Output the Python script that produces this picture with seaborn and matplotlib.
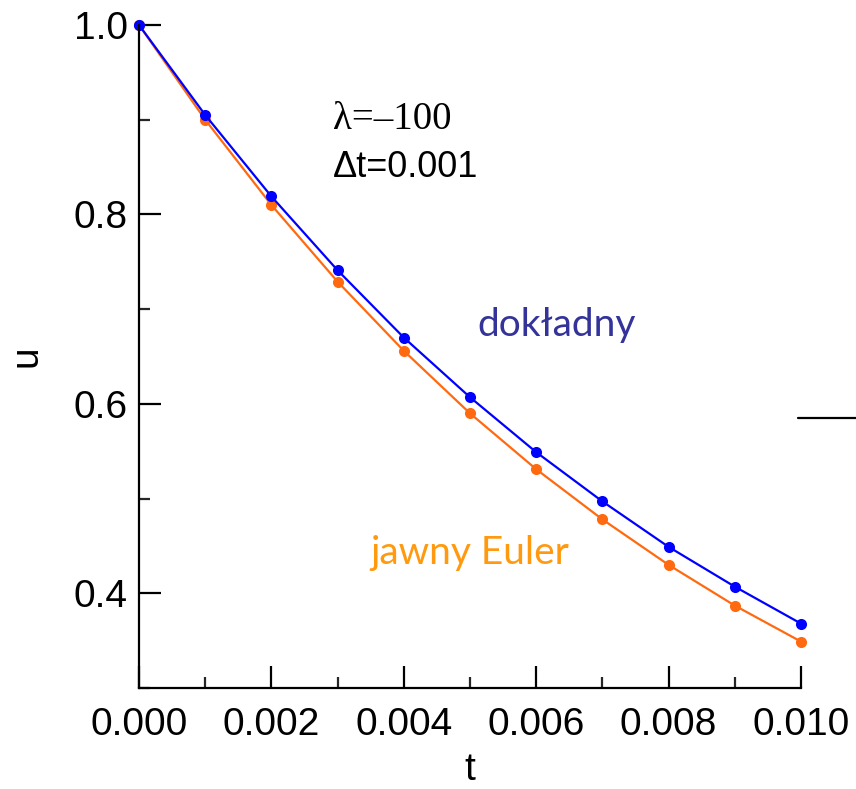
import numpy as np
import pandas as pd
import matplotlib
matplotlib.use("Agg")
import matplotlib.pyplot as plt
from matplotlib.lines import Line2D
from matplotlib.ticker import MultipleLocator
import seaborn as sns

# ==============================
# Data
# ==============================
t = [0.000, 0.001, 0.002, 0.003, 0.004, 0.005, 0.006, 0.007, 0.008, 0.009, 0.010]
u_exact = [1.000, 0.905, 0.819, 0.741, 0.670, 0.607, 0.549, 0.497, 0.449, 0.407, 0.368]
u_euler = [1.000, 0.900, 0.810, 0.729, 0.656, 0.590, 0.531, 0.478, 0.430, 0.387, 0.349]

x_ticks = [0.000, 0.002, 0.004, 0.006, 0.008, 0.010]
y_ticks = [0.4, 0.6, 0.8, 1.0]

df = pd.DataFrame({"t": t, "exact": u_exact, "euler": u_euler})

# ==============================
# Style
# ==============================
sns.set_style("ticks")
plt.rcParams['font.family'] = ['Liberation Sans', 'DejaVu Sans']
plt.rcParams['text.color'] = 'black'
plt.rcParams['axes.labelcolor'] = 'black'

fig = plt.figure(figsize=(8.56, 7.89), dpi=100)
ax = fig.add_axes([139 / 856, 1 - 688 / 789, 662 / 856, 663 / 789])

# orange first, blue on top
sns.lineplot(data=df, x="t", y="euler", ax=ax, color="#ff6a10", linewidth=1.6,
             marker="o", markersize=8, markeredgewidth=0, clip_on=False)
sns.lineplot(data=df, x="t", y="exact", ax=ax, color="#0000ff", linewidth=1.6,
             marker="o", markersize=8, markeredgewidth=0, clip_on=False)

ax.set_xlim(0, 0.010)
ax.set_ylim(0.3, 1.0)
ax.set_xticks(x_ticks)
ax.set_xticklabels([f"{v:.3f}" for v in x_ticks])
ax.set_yticks(y_ticks)
ax.set_yticklabels([f"{v:.1f}" for v in y_ticks])
ax.xaxis.set_minor_locator(MultipleLocator(0.001))
ax.yaxis.set_minor_locator(MultipleLocator(0.1))

ax.tick_params(axis="both", which="major", direction="in", length=16, width=1.6,
               labelsize=28, colors="black", pad=14)
ax.tick_params(axis="both", which="minor", direction="in", length=8, width=1.6)
ax.tick_params(axis="y", pad=8)

for side in ["top", "right"]:
    ax.spines[side].set_visible(False)
for side in ["left", "bottom"]:
    ax.spines[side].set_linewidth(1.6)
    ax.spines[side].set_color("black")

ax.set_xlabel("t", fontsize=28, va="baseline")
ax.set_ylabel("u", fontsize=28)
ax.xaxis.set_label_coords(0.5, -0.139)
ax.yaxis.set_label_coords(-0.142, 0.5)

# annotations
ax.text(0.00293, 0.8997, "λ=–100", family=["Liberation Serif", "DejaVu Serif"],
        fontsize=28, ha="left", va="center")
ax.text(0.00293, 0.850, "Δt=0.001", fontsize=26, ha="left", va="center")
ax.text(0.00631, 0.683, "dokładny", fontsize=28, color="#333399",
        family=["Lato", "DejaVu Sans"], ha="center", va="center")
ax.text(0.00499, 0.4423, "jawny Euler", fontsize=28, color="#ff9a10",
        family=["Lato", "DejaVu Sans"], ha="center", va="center")

# stray dash at the right edge
fig.add_artist(Line2D([798 / 856, 1.0], [1 - 418 / 789] * 2, color="black", linewidth=1.6))

fig.savefig("out.png", dpi=100)
